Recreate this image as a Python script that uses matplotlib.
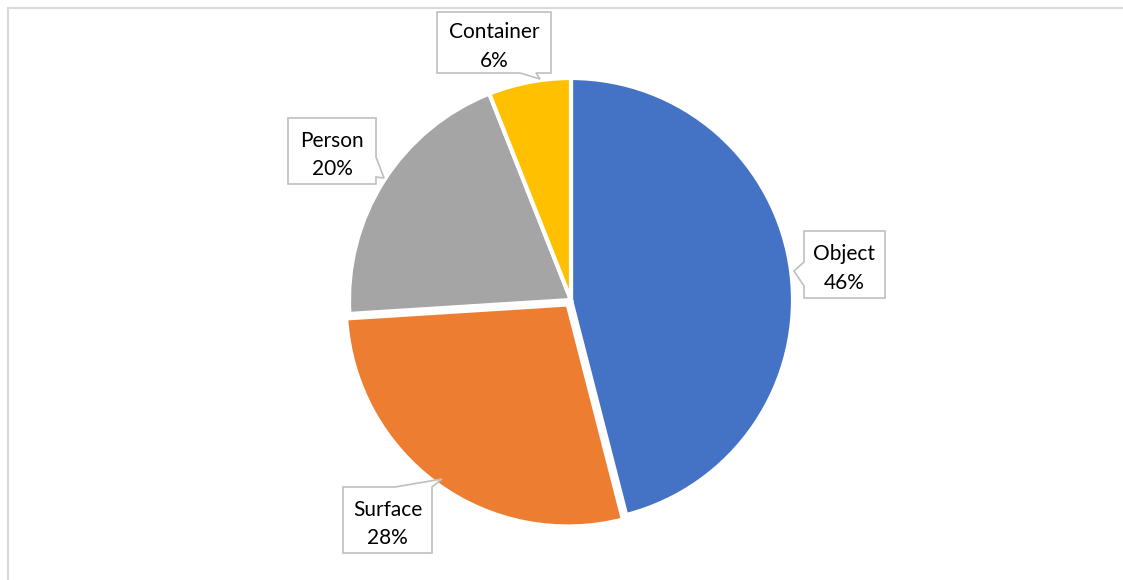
import matplotlib.pyplot as plt
from matplotlib.path import Path
from matplotlib.patches import PathPatch, Rectangle

labels = ['Object', 'Surface', 'Person', 'Container']
values = [46, 28, 20, 6]
colors = ['#4472C4', '#ED7D31', '#A5A5A5', '#FFC000']
explode = [0, 0.025, 0, 0]

W, H = 1123, 580
CX, CY, R = 571, 300, 222   # pie centre / radius in pixels


def px(x, y):
    # pixel position -> data units (pie radius = 1)
    return ((x - CX) / R, (CY - y) / R)


def callout(ax, box, side, base, tip, text):
    x0, y0, x1, y1 = box
    b0, b1 = base
    if side == 'bottom':
        pts = [(x0, y0), (x1, y0), (x1, y1), (b1, y1), tip, (b0, y1), (x0, y1)]
    elif side == 'right':
        pts = [(x0, y0), (x1, y0), (x1, b0), tip, (x1, b1), (x1, y1), (x0, y1)]
    elif side == 'left':
        pts = [(x0, y0), (x1, y0), (x1, y1), (x0, y1), (x0, b1), tip, (x0, b0)]
    else:  # top
        pts = [(x0, y0), (b0, y0), tip, (b1, y0), (x1, y0), (x1, y1), (x0, y1)]
    verts = [px(*p) for p in pts] + [px(*pts[0])]
    codes = [Path.MOVETO] + [Path.LINETO] * (len(pts) - 1) + [Path.CLOSEPOLY]
    ax.add_patch(PathPatch(Path(verts, codes), facecolor='white',
                           edgecolor='#bfbfbf', lw=1.2, zorder=5))
    tx, ty = px((x0 + x1) / 2, (y0 + y1) / 2 + 4)
    ax.text(tx, ty, text, ha='center', va='center', fontsize=15,
            family='Lato', linespacing=1.55, zorder=6, color='black')


fig = plt.figure(figsize=(W / 100, H / 100), dpi=100)
ax = fig.add_axes([0, 0, 1, 1])
ax.axis('off')

ax.pie(values, colors=colors, startangle=90, counterclock=False,
       explode=explode, radius=1,
       wedgeprops=dict(edgecolor='white', linewidth=3))
ax.set_xlim(-CX / R, (W - CX) / R)
ax.set_ylim(-(H - CY) / R, CY / R)

texts = [f'{l}\n{v}%' for l, v in zip(labels, values)]
callout(ax, (804, 231, 885, 298), 'left', (262, 286), (794, 271), texts[0])
callout(ax, (343, 487, 432, 553), 'top', (395, 432), (442, 479), texts[1])
callout(ax, (288, 118, 376, 184), 'right', (157, 177), (384, 178), texts[2])
callout(ax, (437, 12, 551, 73), 'bottom', (520, 536), (540, 79), texts[3])

# chart frame (top and left edges visible)
fig.patches.append(Rectangle((8 / W, -0.1), 1.2, (H - 8) / H + 0.1,
                             transform=fig.transFigure, fill=False,
                             edgecolor='#d9d9d9', lw=1.5))

fig.savefig('out.png', dpi=100)
